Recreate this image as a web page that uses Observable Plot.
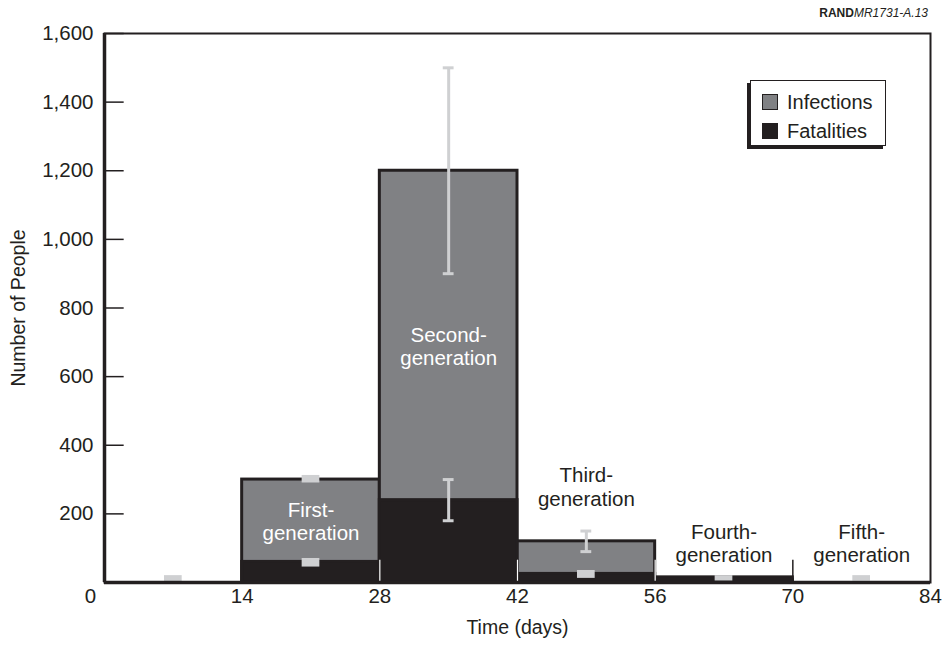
<!DOCTYPE html>
<html>
<head>
<meta charset="utf-8">
<script src="https://cdn.jsdelivr.net/npm/d3@7"></script>
<script src="https://cdn.jsdelivr.net/npm/@observablehq/plot@0.6"></script>
<style>
  html, body { margin: 0; padding: 0; background: #fff; }
  #wrap { position: relative; width: 945px; height: 649px; font-family: "Liberation Sans", Arial, Helvetica, sans-serif; color: #231f20; }
  #credit { position: absolute; right: 17px; top: 7px; font-size: 12px; line-height: 12px; }
  #credit b { font-weight: bold; }
  #credit i { font-style: italic; }
  #legend { position: absolute; left: 750px; top: 80px; width: 134px; height: 64px; border: 1.5px solid #231f20; box-shadow: -3px 3px 0 #231f20; background: #fff; }
  .row { position: absolute; left: 11px; display: flex; align-items: center; font-size: 20px; line-height: 20px; }
  .sw { width: 16px; height: 16px; margin-right: 9px; box-sizing: border-box; border: 1px solid #231f20; }
</style>
</head>
<body>
<div id="wrap">
  <div id="chart"></div>
  <div id="credit"><b>RAND</b><i>MR1731-A.13</i></div>
  <div id="legend">
    <div class="row" style="top:11px"><div class="sw" style="background:#808184"></div>Infections</div>
    <div class="row" style="top:40px"><div class="sw" style="background:#231f20"></div>Fatalities</div>
  </div>
</div>
<script>
// ---- data ----
const xTicks = [0, 14, 28, 42, 56, 70, 84];
const yTicks = [200, 400, 600, 800, 1000, 1200, 1400, 1600];

const binStart = [14, 28, 42, 56];
const binWidth = 14;
const infections = [300, 1200, 120, 15];
const fatalities = [60, 240, 25, 8];

// error bars with caps
const errX = [35, 35, 49];
const errLo = [900, 180, 90];
const errHi = [1500, 300, 150];

// small uncertainty markers
const markX = [7, 21, 21, 49, 63, 77];
const markLo = [0, 290, 45, 12, 4, 4];
const markHi = [20, 312, 70, 35, 20, 20];

// generation labels
const genLabels = ["First-\ngeneration", "Second-\ngeneration", "Third-\ngeneration", "Fourth-\ngeneration", "Fifth-\ngeneration"];
const genX = [21, 35, 49, 63, 77];
const genY = [180, 690, 280, 115, 115];
const genColor = ["white", "white", "#231f20", "#231f20", "#231f20"];

// separators near the base
const sepX = [28, 42, 56];
const sepTop = 65;
const tickX70 = [70];

// ---- tables ----
const bars = binStart.map((s, i) => ({x1: s, x2: s + binWidth, inf: infections[i], fat: fatalities[i]}));
const errs = errX.map((x, i) => ({x, lo: errLo[i], hi: errHi[i]}));
const marks = markX.map((x, i) => ({x, lo: markLo[i], hi: markHi[i]}));
const gens = genLabels.map((t, i) => ({t, x: genX[i], y: genY[i], c: genColor[i]}));

const dark = "#231f20", gray = "#808184", light = "#cfd0d2";
const font = "Liberation Sans, Arial, Helvetica, sans-serif";

const chart = Plot.plot({
  width: 945,
  height: 649,
  marginLeft: 104,
  marginRight: 15,
  marginTop: 33,
  marginBottom: 67,
  style: {fontFamily: font, fontSize: "20px", color: dark, background: "white"},
  x: {domain: [0, 84], axis: null},
  y: {domain: [0, 1600], axis: null},
  marks: [
    Plot.frame({stroke: dark, strokeWidth: 2}),
    Plot.rect(bars, {x1: "x1", x2: "x2", y1: 0, y2: "inf", fill: gray, stroke: dark, strokeWidth: 3}),
    Plot.rect(bars, {x1: "x1", x2: "x2", y1: 0, y2: "fat", fill: dark, stroke: dark, strokeWidth: 3}),
    Plot.ruleX(sepX, {x: d => d, y1: 0, y2: sepTop, stroke: "white", strokeWidth: 1.2}),
    Plot.ruleX(tickX70, {x: d => d, y1: 0, y2: sepTop, stroke: dark, strokeWidth: 1.5}),
    Plot.ruleX(errs, {x: "x", y1: "lo", y2: "hi", stroke: light, strokeWidth: 3}),
    Plot.ruleY(errs, {y: "lo", x1: d => d.x - 0.55, x2: d => d.x + 0.55, stroke: light, strokeWidth: 3}),
    Plot.ruleY(errs, {y: "hi", x1: d => d.x - 0.55, x2: d => d.x + 0.55, stroke: light, strokeWidth: 3}),
    Plot.rect(marks, {x1: d => d.x - 0.9, x2: d => d.x + 0.9, y1: "lo", y2: "hi", fill: light}),
    Plot.text(gens, {x: "x", y: "y", text: "t", fill: "c", fontSize: 20.5, lineHeight: 1.15}),
    // axes
    Plot.ruleY(yTicks, {y: d => d, x1: 0, x2: 2, stroke: dark, strokeWidth: 1.5}),
    Plot.ruleX([0], {stroke: dark, strokeWidth: 3.5}),
    Plot.ruleY([0], {stroke: dark, strokeWidth: 3.5}),
    Plot.text(yTicks, {y: d => d, text: d => d3.format(",")(d), frameAnchor: "left", dx: -11, textAnchor: "end", fill: dark, fontSize: 20.5}),
    Plot.text(xTicks.filter(d => d !== 0), {x: d => d, text: d => String(d), frameAnchor: "bottom", dy: 20, fill: dark, fontSize: 20.5}),
    Plot.text(xTicks.filter(d => d === 0), {x: d => d, text: d => String(d), frameAnchor: "bottom", dy: 20, dx: -14, fill: dark, fontSize: 20.5}),
    Plot.text(["Number of People"], {frameAnchor: "left", dx: -86, rotate: -90, textAnchor: "middle", fill: dark, fontSize: 19.5}),
    Plot.text(["Time (days)"], {frameAnchor: "bottom", dy: 51, textAnchor: "middle", fill: dark, fontSize: 19.5})
  ]
});
document.getElementById("chart").appendChild(chart);
</script>
</body>
</html>
